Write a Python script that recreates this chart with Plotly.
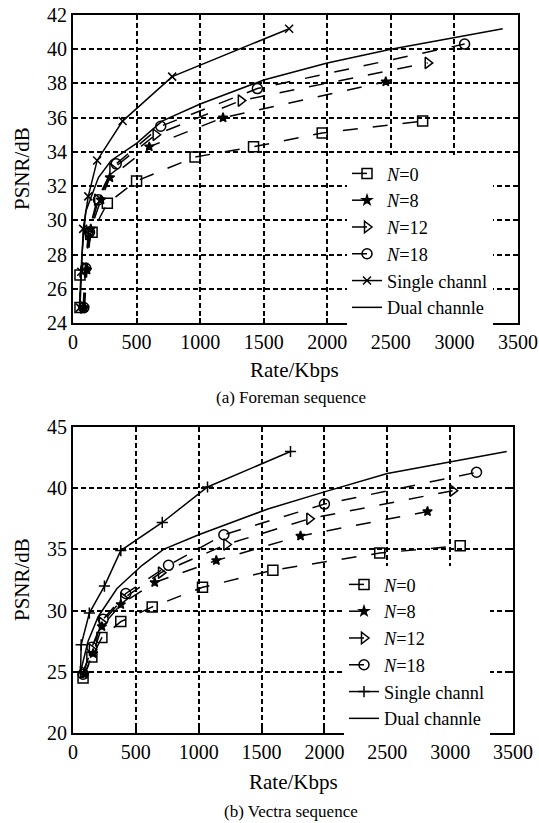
import plotly.graph_objects as go

W, H = 539, 823

# (a) Foreman sequence  -- rate (Kbps), PSNR (dB)
fm_n0_x = [55, 55, 150, 270, 500, 960, 1420, 1960, 2750]
fm_n0_y = [24.9, 26.8, 29.3, 31.0, 32.3, 33.7, 34.3, 35.1, 35.8]
fm_n8_x = [90, 110, 140, 220, 290, 600, 1180, 2460]
fm_n8_y = [24.9, 27.1, 29.5, 31.2, 32.5, 34.3, 36.0, 38.1]
fm_n12_x = [80, 95, 120, 190, 310, 650, 1320, 2790]
fm_n12_y = [24.9, 27.2, 29.2, 31.2, 33.0, 35.0, 37.0, 39.2]
fm_n18_x = [85, 100, 130, 200, 340, 690, 1450, 3080]
fm_n18_y = [24.9, 27.2, 29.3, 31.2, 33.3, 35.5, 37.7, 40.3]
fm_single_x = [55, 65, 80, 120, 190, 390, 780, 1700]
fm_single_y = [24.9, 27.0, 29.5, 31.4, 33.5, 35.8, 38.4, 41.2]
fm_dual_x = [50, 70, 100, 200, 300, 500, 700, 1000, 1500, 2000, 2500, 3000, 3380]
fm_dual_y = [24.9, 28.0, 30.5, 32.5, 33.5, 34.5, 35.8, 36.8, 38.2, 39.2, 40.0, 40.7, 41.2]

# (b) Vectra sequence
vc_n0_x = [80, 150, 230, 380, 630, 1030, 1590, 2440, 3080]
vc_n0_y = [24.5, 26.2, 27.8, 29.1, 30.3, 31.9, 33.3, 34.7, 35.3]
vc_n8_x = [90, 160, 230, 380, 650, 1140, 1810, 2820]
vc_n8_y = [24.8, 26.5, 28.7, 30.5, 32.3, 34.1, 36.1, 38.1]
vc_n12_x = [80, 150, 230, 400, 700, 1220, 1880, 3020]
vc_n12_y = [25.0, 26.8, 29.0, 31.0, 33.1, 35.4, 37.5, 39.8]
vc_n18_x = [80, 150, 240, 420, 760, 1200, 2000, 3210]
vc_n18_y = [24.8, 27.0, 29.3, 31.4, 33.7, 36.2, 38.7, 41.3]
vc_single_x = [60, 65, 130, 250, 380, 710, 1070, 1730]
vc_single_y = [25.0, 27.2, 29.8, 32.0, 34.9, 37.2, 40.1, 43.0]
vc_dual_x = [60, 120, 200, 350, 550, 720, 1000, 1550, 2000, 2500, 3450]
vc_dual_y = [25.0, 27.5, 29.5, 31.8, 33.7, 35.0, 36.2, 38.3, 39.7, 41.2, 43.0]

names = ["<i>N</i>=0", "<i>N</i>=8", "<i>N</i>=12", "<i>N</i>=18", "Single channl", "Dual channle"]
FONT = "Liberation Serif"

# marker / dash per series
styles = [
    dict(symbol="square-open", dash="longdash", size=10),
    dict(symbol="star", dash="longdash", size=7),
    dict(symbol="triangle-right-open", dash="longdash", size=10),
    dict(symbol="circle-open", dash="longdash", size=10),
    dict(symbol=None, dash="solid", size=8),
    dict(symbol=None, dash="solid", size=0),
]

fig = go.Figure()

top = [(fm_n0_x, fm_n0_y), (fm_n8_x, fm_n8_y), (fm_n12_x, fm_n12_y),
       (fm_n18_x, fm_n18_y), (fm_single_x, fm_single_y), (fm_dual_x, fm_dual_y)]
bot = [(vc_n0_x, vc_n0_y), (vc_n8_x, vc_n8_y), (vc_n12_x, vc_n12_y),
       (vc_n18_x, vc_n18_y), (vc_single_x, vc_single_y), (vc_dual_x, vc_dual_y)]

for data, single_sym, xa, ya, lg in [
        (top, "x-thin-open", "x", "y", "legend"),
        (bot, "cross-thin-open", "x2", "y2", "legend2")]:
    for i, (xs, ys) in enumerate(data):
        st = styles[i]
        sym = st["symbol"] if i != 4 else single_sym
        mode = "lines" if i == 5 else "lines+markers"
        fig.add_trace(go.Scatter(
            x=xs, y=ys, name=names[i], mode=mode, xaxis=xa, yaxis=ya, legend=lg,
            line=dict(color="black", width=1.5, dash=st["dash"]),
            marker=dict(symbol=sym, size=st["size"], color="black",
                        line=dict(color="black", width=1.5)),
        ))

axis_common = dict(
    showline=True, linecolor="black", linewidth=2, mirror="allticks",
    ticks="inside", ticklen=5, tickwidth=2, tickcolor="black",
    showgrid=True, gridcolor="black", gridwidth=1.5, griddash="5px,3px",
    zeroline=False, automargin=False,
    tickfont=dict(family=FONT, size=20, color="black"),
)

def px_x(p):
    return p / W

def px_y(p):
    return 1 - p / H

fig.update_layout(
    template="simple_white",
    width=W, height=H, margin=dict(l=0, r=0, t=0, b=0, pad=0),
    plot_bgcolor="white", paper_bgcolor="white",
    font=dict(family=FONT, color="black"),
    xaxis=dict(domain=[px_x(73), px_x(518)], range=[0, 3500], dtick=500,
               anchor="y", **axis_common),
    yaxis=dict(domain=[px_y(323), px_y(15)], range=[24, 42], dtick=2,
               anchor="x", **axis_common),
    xaxis2=dict(domain=[px_x(73), px_x(513)], range=[0, 3500], dtick=500,
                anchor="y2", **axis_common),
    yaxis2=dict(domain=[px_y(733), px_y(427)], range=[20, 45], dtick=5,
                anchor="x2", **axis_common),
    legend=dict(x=px_x(347), y=px_y(155), xanchor="left", yanchor="top",
                bgcolor="white", borderwidth=0,
                font=dict(family=FONT, size=18.3, color="black")),
    legend2=dict(x=px_x(344), y=px_y(566), xanchor="left", yanchor="top",
                 bgcolor="white", borderwidth=0,
                 font=dict(family=FONT, size=18.3, color="black")),
)

texts = [
    ("Rate/Kbps", 294, 370, 0, 21),
    ("PSNR/dB", 22, 169, -90, 21),
    ("(a) Foreman sequence", 291, 397, 0, 17),
    ("Rate/Kbps", 293, 782, 0, 21),
    ("PSNR/dB", 22, 580, -90, 21),
    ("(b) Vectra sequence", 291, 811, 0, 17),
]
for t, x, y, ang, sz in texts:
    fig.add_annotation(text=t, x=px_x(x), y=px_y(y), xref="paper", yref="paper",
                       showarrow=False, textangle=ang, xanchor="center", yanchor="middle",
                       font=dict(family=FONT, size=sz, color="black"))

# drop the default body margin so the figure fills the window exactly
fig.write_html("out.html", config={"displayModeBar": False},
               post_script="document.body.style.margin='0';")
